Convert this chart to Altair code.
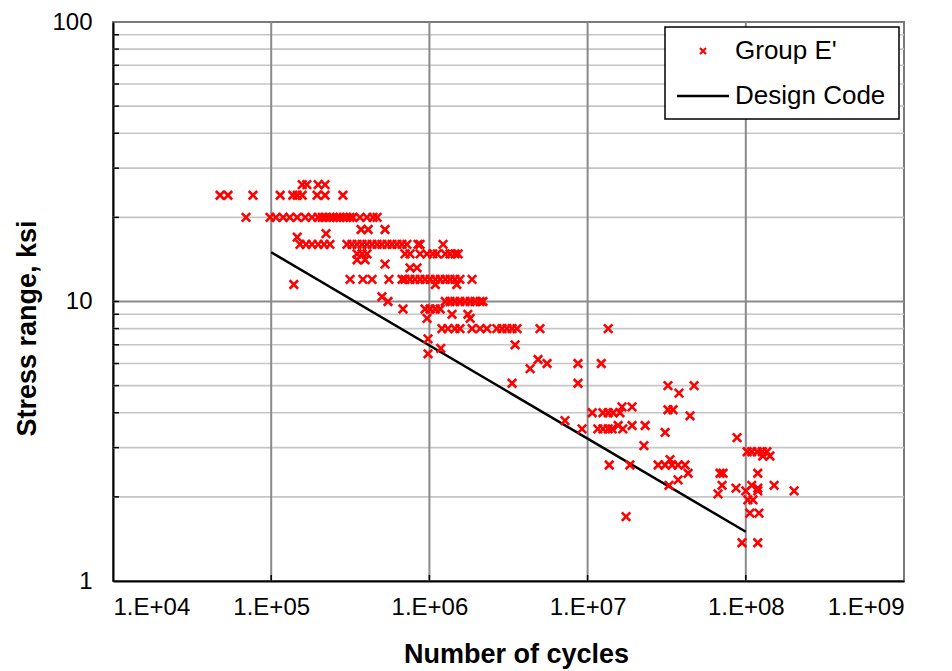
import altair as alt
import pandas as pd

# ---------------- data ----------------
stress_levels = [26.2, 24.0, 20.0, 18.1, 17.5, 17.0, 16.0, 14.8, 14.1, 13.6, 13.2, 12.0, 11.5,
                 10.4, 10.0, 9.4, 9.0, 8.7, 8.0, 7.35, 7.0, 6.8, 6.5, 6.2, 6.0, 5.75, 5.1, 5.0,
                 4.7, 4.2, 4.1, 4.0, 3.9, 3.75, 3.6, 3.5, 3.4, 3.26, 3.05, 2.9, 2.8, 2.72, 2.6,
                 2.43, 2.3, 2.2, 2.15, 2.1, 2.05, 1.95, 1.75, 1.7, 1.37]

cycles_at_level = [
    [1.57e5, 1.68e5, 1.98e5, 2.19e5],
    [4.75e4, 5.33e4, 7.67e4, 1.14e5, 1.37e5, 1.46e5, 1.57e5, 1.95e5, 2.19e5, 2.84e5],
    [6.93e4, 9.83e4, 1.07e5, 1.19e5, 1.31e5, 1.46e5, 1.64e5, 1.81e5, 1.98e5, 2.10e5, 2.22e5,
     2.35e5, 2.47e5, 2.60e5, 2.72e5, 2.86e5, 3.00e5, 3.15e5, 3.29e5, 3.64e5, 4.03e5, 4.40e5, 4.67e5],
    [3.70e5, 4.10e5, 5.24e5],
    [2.22e5],
    [1.46e5],
    [1.52e5, 1.66e5, 1.81e5, 1.98e5, 2.16e5, 2.35e5, 3.01e5, 3.24e5, 3.49e5, 3.75e5, 4.03e5,
     4.34e5, 4.67e5, 5.01e5, 5.40e5, 5.80e5, 6.24e5, 6.71e5, 7.21e5, 8.47e5, 8.73e5, 1.22e6],
    [3.49e5, 3.75e5, 4.03e5, 7.01e5, 7.54e5, 8.73e5, 9.66e5, 1.05e6, 1.12e6, 1.26e6, 1.35e6,
     1.45e6, 1.52e6],
    [3.49e5, 3.92e5],
    [5.24e5],
    [7.54e5, 8.35e5],
    [3.15e5, 3.80e5, 4.34e5, 5.55e5, 6.71e5, 7.01e5, 7.54e5, 8.11e5, 8.73e5, 9.38e5, 1.01e6,
     1.09e6, 1.17e6, 1.26e6, 1.35e6, 1.45e6, 1.56e6, 1.86e6],
    [1.39e5, 1.09e6, 1.49e6],
    [5.01e5],
    [5.47e5, 1.26e6, 1.35e6, 1.45e6, 1.56e6, 1.68e6, 1.81e6, 1.94e6, 2.09e6, 2.18e6],
    [6.81e5, 9.38e5, 1.01e6, 1.09e6, 1.17e6],
    [1.39e6, 1.75e6],
    [9.66e5, 1.81e6],
    [1.20e6, 1.31e6, 1.45e6, 1.56e6, 1.86e6, 2.09e6, 2.31e6, 2.67e6, 2.88e6, 3.09e6, 3.33e6,
     3.58e6, 5.00e6, 1.35e7],
    [9.80e5],
    [3.48e6],
    [1.18e6],
    [9.80e5],
    [4.86e6],
    [5.54e6, 8.69e6, 1.22e7],
    [4.33e6],
    [3.33e6, 8.69e6],
    [3.22e7, 4.71e7],
    [3.78e7],
    [1.65e7, 1.91e7],
    [3.22e7, 3.47e7],
    [1.07e7, 1.25e7, 1.35e7, 1.45e7, 1.60e7],
    [4.44e7],
    [7.19e6],
    [1.56e7, 1.91e7, 2.31e7],
    [9.22e6, 1.16e7, 1.25e7, 1.35e7, 1.43e7, 1.67e7],
    [3.09e7],
    [8.80e7],
    [2.27e7],
    [1.02e8, 1.09e8, 1.18e8, 1.27e8, 1.36e8],
    [1.28e8, 1.42e8],
    [3.32e7],
    [1.37e7, 1.85e7, 2.79e7, 3.09e7, 3.42e7, 3.73e7, 4.13e7],
    [4.32e7, 6.87e7, 7.18e7, 1.19e8],
    [3.73e7],
    [3.27e7, 7.08e7, 1.09e8, 1.51e8],
    [8.67e7, 1.19e8],
    [1.00e8, 1.19e8, 2.02e8],
    [6.67e7],
    [1.03e8, 1.11e8],
    [1.06e8, 1.21e8],
    [1.75e7],
    [9.46e7, 1.19e8],
]

design_cycles = [1e5, 1e8]
design_stress = [15.0, 1.5]

x_ticks = [1e4, 1e5, 1e6, 1e7, 1e8, 1e9]
y_ticks = [1, 10, 100]
y_minor = [2, 3, 4, 5, 6, 7, 8, 9, 20, 30, 40, 50, 60, 70, 80, 90]
y_major = [10]
x_major = [1e5, 1e6, 1e7, 1e8]

legend_labels = ["Group E'", "Design Code"]

# ---------------- tables ----------------
pts = pd.DataFrame(
    [(c, s) for s, cs in zip(stress_levels, cycles_at_level) for c in cs],
    columns=["cycles", "stress"],
)
line_df = pd.DataFrame({"cycles": design_cycles, "stress": design_stress})
ygrid_minor = pd.DataFrame({"v": y_minor})
ygrid_major = pd.DataFrame({"v": y_major})
ytick_df = pd.DataFrame({"v": y_minor + y_major})
xgrid_df = pd.DataFrame({"v": x_major})
one = pd.DataFrame({"a": [0]})

W, H = 791, 559
TOP = 14
FONT = "Liberation Sans"

xscale = alt.Scale(type="log", domain=[1e4, 1e9], nice=False)
yscale = alt.Scale(type="log", domain=[1, 100], nice=False)

xaxis = alt.Axis(
    values=x_ticks,
    labelExpr="'1.E+0' + round(log(datum.value) / LN10)",
    title="Number of cycles",
    labelPadding=14,
    titleX=403,
    titleY=81,
    titleBaseline="alphabetic",
    titleAlign="center",
)
yaxis = alt.Axis(
    values=y_ticks,
    format="d",
    title="Stress range, ksi",
    labelPadding=21,
    titleX=-78,
    titleY=306,
    titleBaseline="alphabetic",
    titleAlign="center",
)

X = lambda f: alt.X(f, type="quantitative", scale=xscale, axis=xaxis)
Y = lambda f: alt.Y(f, type="quantitative", scale=yscale, axis=yaxis)

minor_grid = alt.Chart(ygrid_minor).mark_rule(color="#c6c6c6", strokeWidth=1.6).encode(y=Y("v"))
major_grid = alt.Chart(ygrid_major).mark_rule(color="#8a8a8a", strokeWidth=2).encode(y=Y("v"))
vgrid = alt.Chart(xgrid_df).mark_rule(color="#8a8a8a", strokeWidth=2).encode(x=X("v"))

left_ticks = alt.Chart(ytick_df).mark_rule(color="black", strokeWidth=1.5).encode(
    y=Y("v"), x=alt.value(0), x2=alt.value(6)
)
bottom_ticks = alt.Chart(xgrid_df).mark_rule(color="black", strokeWidth=1.5).encode(
    x=X("v"), y=alt.value(H), y2=alt.value(H - 6)
)

design = alt.Chart(line_df).mark_line(color="black", strokeWidth=2.5).encode(
    x=X("cycles"), y=Y("stress")
)

XSHAPE = "M-1,-1L1,1M-1,1L1,-1"
points = alt.Chart(pts).mark_point(
    shape=XSHAPE, filled=False, color="#ff0000", strokeWidth=2.6, size=72, opacity=1
).encode(x=X("cycles"), y=Y("stress"))

# ---------------- legend (drawn by hand) ----------------
lx0, ly0, lx1, ly1 = 552, 5, 786, 97
leg_box = alt.Chart(one).mark_rect(fill="white", stroke="black", strokeWidth=1.5).encode(
    x=alt.value(lx0), x2=alt.value(lx1), y=alt.value(ly0), y2=alt.value(ly1)
)
leg_sym = alt.Chart(one).mark_point(
    shape=XSHAPE, filled=False, color="#ff0000", strokeWidth=2.2, size=36, opacity=1
).encode(x=alt.value(590), y=alt.value(29))
leg_line = alt.Chart(one).mark_rule(color="black", strokeWidth=2.5).encode(
    x=alt.value(564), x2=alt.value(616), y=alt.value(74)
)
leg_t1 = alt.Chart(one).mark_text(
    text=legend_labels[0], font=FONT, fontSize=26, align="left", baseline="middle", color="black"
).encode(x=alt.value(622), y=alt.value(29))
leg_t2 = alt.Chart(one).mark_text(
    text=legend_labels[1], font=FONT, fontSize=26, align="left", baseline="middle", color="black"
).encode(x=alt.value(622), y=alt.value(74))

chart = alt.layer(
    minor_grid, major_grid, vgrid, left_ticks, bottom_ticks, design, points,
    leg_box, leg_sym, leg_line, leg_t1, leg_t2,
).properties(
    width=W,
    height=H,
    padding={"left": 105, "top": TOP, "right": 30, "bottom": 88},
    autosize=alt.AutoSizeParams(type="none"),
    background="white",
).configure_view(
    stroke="#7a7a7a", strokeWidth=2
).configure_axis(
    labelFont=FONT,
    labelFontSize=24,
    labelColor="black",
    titleFont=FONT,
    titleFontSize=27,
    titleFontWeight="bold",
    titleColor="black",
    domainColor="black",
    domainWidth=2,
    grid=False,
    ticks=False,
    tickSize=0,
)

chart.save("out.html", embed_options={"renderer": "svg", "actions": False})
